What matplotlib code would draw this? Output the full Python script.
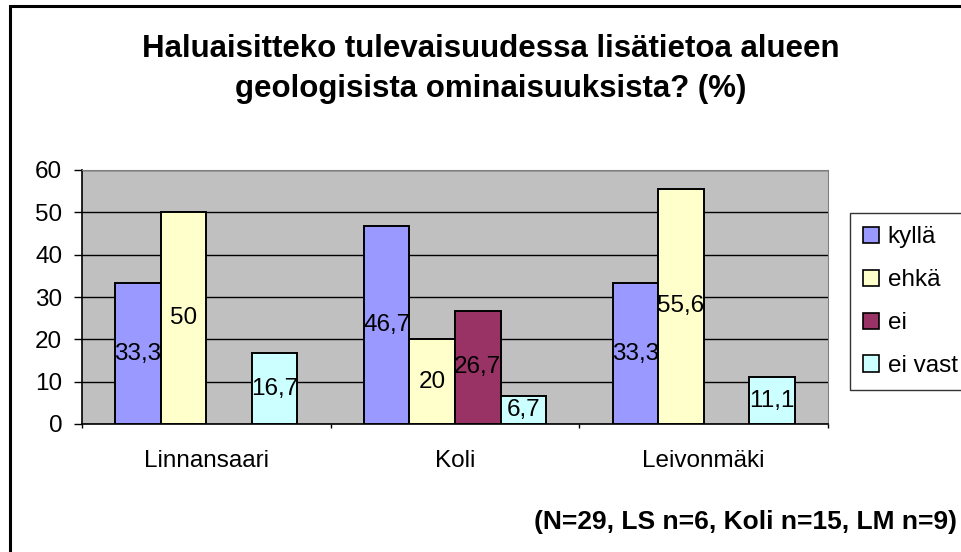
import matplotlib
matplotlib.use("Agg")
import matplotlib.pyplot as plt
from matplotlib.patches import Patch, Rectangle
import numpy as np

plt.rcParams['font.family'] = ['Liberation Sans', 'DejaVu Sans']

categories = ["Linnansaari", "Koli", "Leivonmäki"]
series_names = ["kyllä", "ehkä", "ei", "ei vast"]
kylla = [33.3, 46.7, 33.3]
ehka = [50, 20, 55.6]
ei = [0, 26.7, 0]
ei_vast = [16.7, 6.7, 11.1]
series_values = [kylla, ehka, ei, ei_vast]
colors = ["#9999FF", "#FFFFCC", "#993366", "#CCFFFF"]
y_ticks = [0, 10, 20, 30, 40, 50, 60]
title = "Haluaisitteko tulevaisuudessa lisätietoa alueen\ngeologisista ominaisuuksista? (%)"
note = "(N=29, LS n=6, Koli n=15, LM n=9)"

W, H = 961, 552
fig = plt.figure(figsize=(W / 100, H / 100), dpi=100)
fig.patch.set_facecolor("white")

ax = fig.add_axes([82 / W, 1 - 424 / H, (828 - 82) / W, (424 - 170) / H])
ax.set_facecolor("#C0C0C0")

FS = 17.5
bw = 0.183
x = np.arange(len(categories))
for i, (vals, col) in enumerate(zip(series_values, colors)):
    xs = x + (i - 1.5) * bw
    for xi, v in zip(xs, vals):
        if v == 0:
            continue
        ax.bar(xi, v, width=bw, color=col, edgecolor="black", linewidth=1.4, zorder=3)
        lab = ("%g" % v).replace(".", ",")
        ax.text(xi, v / 2, lab, ha="center", va="center", fontsize=FS, zorder=4)

ax.set_xlim(-0.5, len(categories) - 0.5)
ax.set_ylim(0, 60)
ax.set_yticks(y_ticks)
ax.set_yticklabels([str(t) for t in y_ticks], fontsize=FS)
ax.yaxis.grid(True, color="black", linewidth=1.0, zorder=0)
ax.set_axisbelow(True)

ax.set_xticks(np.arange(len(categories) + 1) - 0.5)
ax.set_xticklabels([])
ax.set_xticks(x, minor=True)
ax.set_xticklabels(categories, minor=True, fontsize=FS)
ax.tick_params(axis="x", which="major", direction="out", length=3, width=1, color="black")
ax.tick_params(axis="x", which="minor", length=0, pad=19)
ax.tick_params(axis="y", direction="out", length=5.8, width=1, pad=8.5)

ax.spines["left"].set_color("black")
ax.spines["left"].set_linewidth(1.2)
ax.spines["bottom"].set_color("black")
ax.spines["bottom"].set_linewidth(1.2)
ax.spines["top"].set_color("#808080")
ax.spines["right"].set_color("#808080")

fig.text(491 / W, 1 - 69 / H, title, ha="center", va="center", fontsize=22.5,
         fontweight="bold", linespacing=1.45)
fig.text(957 / W, 1 - 522 / H, note, ha="right", va="center", fontsize=19,
         fontweight="bold")

handles = [Patch(facecolor=c, edgecolor="black", linewidth=1.2) for c in colors]
leg = fig.legend(handles, series_names, loc="upper left",
                 bbox_to_anchor=(850 / W, 1 - 213 / H), fontsize=FS,
                 frameon=True, fancybox=False, shadow=False, borderaxespad=0,
                 handlelength=0.65, handleheight=0.65, handletextpad=0.35,
                 labelspacing=0.86, borderpad=0.55)
leg.get_frame().set_edgecolor("black")
leg.get_frame().set_linewidth(1.0)

fig.patches.append(Rectangle((10 / W, -0.1), 1.2, 1 - 6 / H + 0.1,
                             transform=fig.transFigure, fill=False,
                             edgecolor="black", linewidth=2.2))

fig.savefig("out.png", dpi=100)
